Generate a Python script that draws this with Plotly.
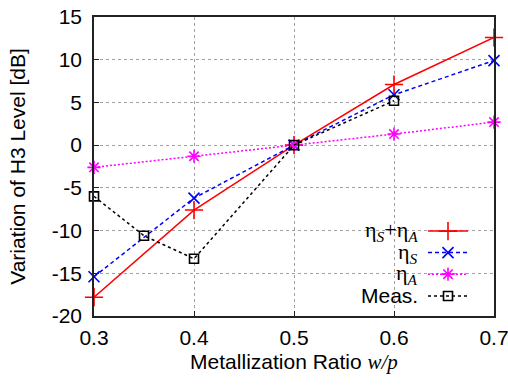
import plotly.graph_objects as go

# Data
x_model = [0.3, 0.4, 0.5, 0.6, 0.7]
eta_sum = [-17.8, -7.6, 0.0, 7.1, 12.6]
eta_s = [-15.4, -6.2, 0.0, 5.9, 9.9]
eta_a = [-2.6, -1.3, 0.0, 1.3, 2.7]
x_meas = [0.3, 0.35, 0.4, 0.5, 0.6]
meas = [-6.0, -10.6, -13.3, 0.0, 5.2]

series_names = ["η<sub><i>S</i></sub>+η<sub><i>A</i></sub>", "η<sub><i>S</i></sub>", "η<sub><i>A</i></sub>", "Meas."]
x_ticks = [0.3, 0.4, 0.5, 0.6, 0.7]
y_ticks = [15, 10, 5, 0, -5, -10, -15, -20]

SANS = "Liberation Sans, Arial, sans-serif"
SERIF = "Liberation Serif, Times New Roman, serif"

styles = [
    dict(color="#ff0000", dash="solid", symbol="cross-thin-open", size=13),
    dict(color="#0000ff", dash="4px,3px", symbol="x-thin-open", size=11),
    dict(color="#ff00ff", dash="2px,2px", symbol="asterisk-open", size=11),
    dict(color="#000000", dash="3px,3px", symbol="square-open", size=9),
]

fig = go.Figure()
all_x = [x_model, x_model, x_model, x_meas]
all_y = [eta_sum, eta_s, eta_a, meas]
for xs, ys, st in zip(all_x, all_y, styles):
    fig.add_trace(go.Scatter(
        x=xs, y=ys, mode="lines+markers", showlegend=False, cliponaxis=False,
        line=dict(color=st["color"], width=1.5, dash=st["dash"]),
        marker=dict(symbol=st["symbol"], size=st["size"], color=st["color"],
                    line=dict(color=st["color"], width=1.6)),
    ))

# Custom gnuplot-style key (text left of sample) on a hidden overlay axis
key_rows = [0.284, 0.212, 0.140, 0.067]
key_x0, key_xm, key_x1 = 0.835, 0.885, 0.935
for name, st, ky in zip(series_names, styles, key_rows):
    fig.add_trace(go.Scatter(
        x=[key_x0, key_x1], y=[ky, ky], mode="lines", xaxis="x2", yaxis="y2",
        showlegend=False, hoverinfo="skip",
        line=dict(color=st["color"], width=1.5, dash=st["dash"]),
    ))
    fig.add_trace(go.Scatter(
        x=[key_xm], y=[ky], mode="markers", xaxis="x2", yaxis="y2",
        showlegend=False, hoverinfo="skip",
        marker=dict(symbol=st["symbol"], size=st["size"], color=st["color"],
                    line=dict(color=st["color"], width=1.6)),
    ))
    is_meas = name == "Meas."
    fig.add_annotation(
        x=0.815, y=ky, xref="x2", yref="y2", xanchor="right", yanchor="middle",
        text=name, showarrow=False,
        font=dict(family=SANS if is_meas else SERIF, size=21 if is_meas else 22, color="black"),
    )

fig.update_layout(
    width=508, height=386,
    margin=dict(l=94, r=14, t=17, b=70),
    paper_bgcolor="white", plot_bgcolor="white",
    font=dict(family=SANS, size=21, color="black"),
    xaxis=dict(
        range=[0.3, 0.7], tickvals=x_ticks, ticktext=[f"{v:.1f}" for v in x_ticks],
        showgrid=True, gridcolor="#a0a0a0", griddash="3px,3px", gridwidth=1,
        showline=True, linecolor="#222222", linewidth=1.5, mirror=True,
        ticks="inside", ticklen=5, tickcolor="#222222", zeroline=False,
        ticklabelstandoff=2, automargin=False, ticklabeloverflow="allow",
        title=dict(text="Metallization Ratio <span style=\"font-family:Liberation Serif\"><i>w/p</i></span>",
                   font=dict(size=21), standoff=6),
    ),
    yaxis=dict(
        range=[-20, 15], tickvals=y_ticks, ticktext=[str(v) for v in y_ticks],
        showgrid=True, gridcolor="#a0a0a0", griddash="3px,3px", gridwidth=1,
        showline=True, linecolor="#222222", linewidth=1.5, mirror=True,
        ticks="inside", ticklen=5, tickcolor="#222222", zeroline=False,
        ticklabelstandoff=6, automargin=False, ticklabeloverflow="allow",
        title=dict(text="Variation of H3 Level [dB]", font=dict(size=21), standoff=20),
    ),
    xaxis2=dict(range=[0, 1], overlaying="x", visible=False),
    yaxis2=dict(range=[0, 1], overlaying="y", visible=False),
)

fig.write_html(
    "out.html",
    config={"displayModeBar": False},
    post_script="document.body.style.margin='0';document.body.style.overflow='hidden';",
)
